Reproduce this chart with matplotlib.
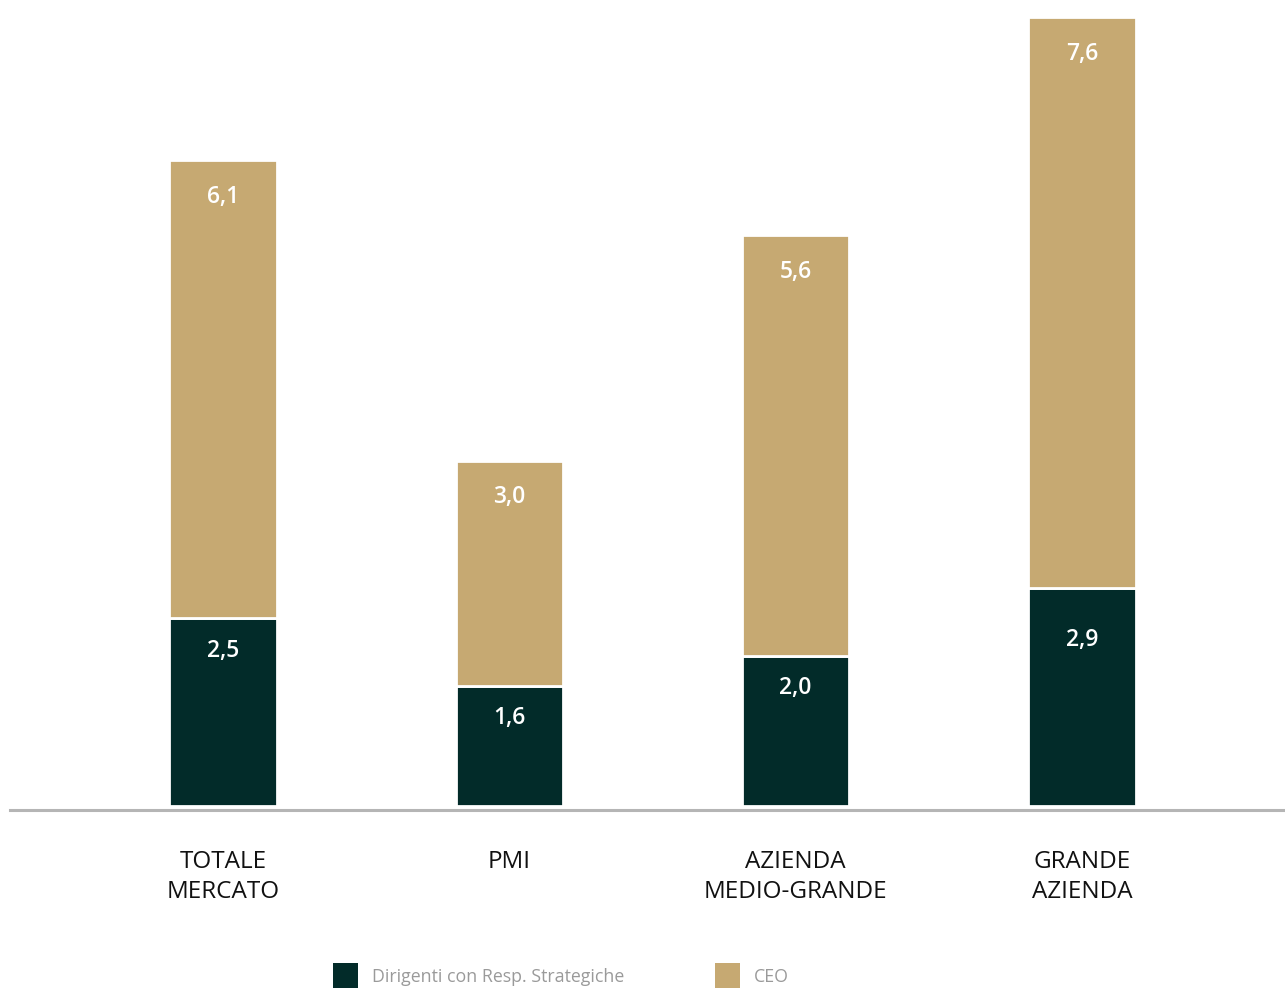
import matplotlib
matplotlib.use("Agg")
import matplotlib.pyplot as plt
import numpy as np

plt.rcParams['font.family'] = ['Open Sans', 'DejaVu Sans']

categories = ["TOTALE\nMERCATO", "PMI", "AZIENDA\nMEDIO-GRANDE", "GRANDE\nAZIENDA"]
dirigenti = [2.5, 1.6, 2.0, 2.9]
ceo = [6.1, 3.0, 5.6, 7.6]
series_names = ["Dirigenti con Resp. Strategiche", "CEO"]

dark = "#022b29"
gold = "#c6a972"

W, H = 1285, 988
fig = plt.figure(figsize=(W / 100, H / 100), dpi=100)
# axes: x from 10px to right edge, y from top down to the axis line at 810px
ax = fig.add_axes([10 / W, (H - 810) / H, 1 - 10 / W, 810 / H])

x = np.arange(len(categories))
width = 0.375
b1 = ax.bar(x, dirigenti, width, color=dark, edgecolor="white", linewidth=2.0)
b2 = ax.bar(x, ceo, width, bottom=dirigenti, color=gold, edgecolor="white", linewidth=2.0)

px = 75.1  # pixels per unit
ax.set_ylim(-4 / px, 806 / px)
ax.set_xlim(-(223 - 10) / 286.4, 3 + (1285 - 1082) / 286.4)

# label offsets below the top of each dark segment (points)
dark_off = [-23.5, -23.5, -23.5, -37]
for i in range(len(categories)):
    ax.annotate(f"{dirigenti[i]:.1f}".replace(".", ","), (x[i], dirigenti[i]),
                xytext=(0, dark_off[i]), textcoords="offset points", ha="center", va="center",
                color="white", fontsize=16.5, fontweight="semibold")
    ax.annotate(f"{ceo[i]:.1f}".replace(".", ","), (x[i], dirigenti[i] + ceo[i]),
                xytext=(0, -26.5), textcoords="offset points", ha="center", va="center",
                color="white", fontsize=16.5, fontweight="semibold")

for s in ["top", "right", "left"]:
    ax.spines[s].set_visible(False)
ax.spines["bottom"].set_color("#b5b5b5")
ax.spines["bottom"].set_linewidth(2.2)
ax.set_yticks([])
ax.set_xticks(x)
ax.set_xticklabels(categories, fontsize=17.5, color="#111111", linespacing=1.3)
ax.tick_params(axis="x", length=0, pad=29)

leg = fig.legend([b1, b2], series_names, loc="upper left",
                 bbox_to_anchor=(333 / W, (H - 963) / H), ncol=2, frameon=False,
                 fontsize=12.8, handlelength=1.4, handleheight=2.0, handletextpad=0.8,
                 columnspacing=5.1, borderpad=0, borderaxespad=0, labelcolor="#9a9a9a")
for h in leg.legend_handles:
    h.set_linewidth(0)

fig.savefig("out.png", dpi=100)
